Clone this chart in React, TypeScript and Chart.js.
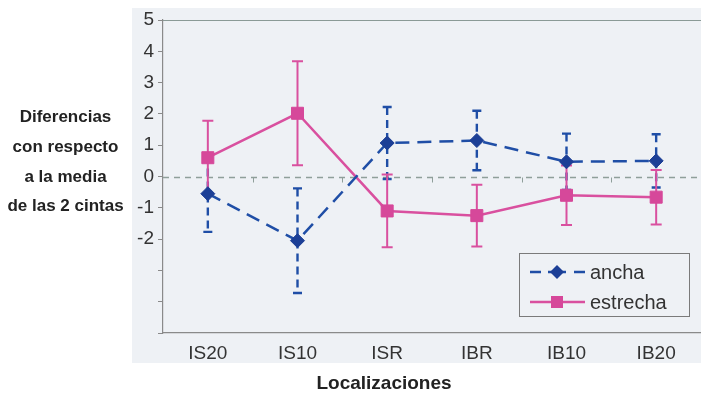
import { useEffect, useRef } from 'react';
import { Chart, registerables } from 'chart.js';
Chart.register(...registerables);

const categories = ['IS20', 'IS10', 'ISR', 'IBR', 'IB10', 'IB20'];
const ancha = [-0.55, -2.05, 1.07, 1.15, 0.47, 0.5];
const anchaErr = [1.22, 1.67, 1.15, 0.95, 0.9, 0.85];
const estrecha = [0.6, 2.02, -1.1, -1.25, -0.6, -0.66];
const estrechaErr = [1.18, 1.66, 1.16, 0.99, 0.95, 0.87];
const yTickLabelMin = -2;
const yTitleLines = ['Diferencias', 'con respecto', 'a la media', 'de las 2 cintas'];
const xTitle = 'Localizaciones';
const seriesNames = ['ancha', 'estrecha'];

const BLUE = '#1f4ea6';
const BLUE_MARK = '#1c3f96';
const PINK = '#d9509f';
const PINK_MARK = '#d6489a';
const FONT = '"Liberation Sans", Arial, sans-serif';

export default function App() {
  const ref = useRef<HTMLCanvasElement>(null);
  useEffect(() => {
    const canvas = ref.current!;
    const errs = [anchaErr, estrechaErr];

    const bgPlugin = {
      id: 'bg',
      beforeDraw(chart: any) {
        const { ctx } = chart;
        ctx.save();
        ctx.fillStyle = '#ffffff';
        ctx.fillRect(0, 0, chart.width, chart.height);
        ctx.fillStyle = '#eef1f5';
        ctx.fillRect(132, 8, chart.width - 132, 355);
        ctx.restore();
      },
      beforeDatasetsDraw(chart: any) {
        const { ctx, chartArea, scales } = chart;
        const xs = scales.x, ys = scales.y;
        ctx.save();
        // top border
        ctx.strokeStyle = '#8a9a96';
        ctx.lineWidth = 1.2;
        ctx.beginPath();
        ctx.moveTo(chartArea.left, chartArea.top + 0.5);
        ctx.lineTo(chartArea.right, chartArea.top + 0.5);
        ctx.stroke();
        // zero line
        const y0 = Math.round(ys.getPixelForValue(0)) + 0.5;
        ctx.strokeStyle = '#8f9f9a';
        ctx.lineWidth = 1.3;
        ctx.setLineDash([6, 5]);
        ctx.beginPath();
        ctx.moveTo(chartArea.left, y0);
        ctx.lineTo(chartArea.right, y0);
        ctx.stroke();
        ctx.setLineDash([]);
        ctx.lineWidth = 1;
        for (let i = 0; i < categories.length - 1; i++) {
          const xm = Math.round((xs.getPixelForValue(i) + xs.getPixelForValue(i + 1)) / 2) + 0.5;
          ctx.beginPath();
          ctx.moveTo(xm, y0);
          ctx.lineTo(xm, y0 + 5);
          ctx.stroke();
        }
        // error bars
        chart.data.datasets.forEach((ds: any, di: number) => {
          const e = errs[di];
          ds.data.forEach((v: number, i: number) => {
            const x = xs.getPixelForValue(i);
            const yt = ys.getPixelForValue(v + e[i]);
            const yb = ys.getPixelForValue(v - e[i]);
            ctx.strokeStyle = di === 0 ? BLUE : PINK;
            ctx.lineWidth = di === 0 ? 2.4 : 2;
            ctx.setLineDash(di === 0 ? [8, 5] : []);
            ctx.beginPath();
            ctx.moveTo(x, yt);
            ctx.lineTo(x, yb);
            ctx.stroke();
            ctx.setLineDash([]);
            const cw = di === 0 ? 4.5 : 5.5;
            ctx.beginPath();
            ctx.moveTo(x - cw, yt);
            ctx.lineTo(x + cw, yt);
            ctx.moveTo(x - cw, yb);
            ctx.lineTo(x + cw, yb);
            ctx.stroke();
          });
        });
        ctx.restore();
      },
      afterDraw(chart: any) {
        const { ctx } = chart;
        ctx.save();
        ctx.fillStyle = '#222';
        ctx.textAlign = 'center';
        ctx.textBaseline = 'middle';
        ctx.font = `bold 17px ${FONT}`;
        const ys0 = [117, 147, 177, 206];
        yTitleLines.forEach((t, i) => ctx.fillText(t, 65.5, ys0[i]));
        ctx.font = `bold 19px ${FONT}`;
        ctx.fillText(xTitle, 384, 384);
        // legend
        const lx = 519.5, ly = 253.5, lw = 170, lh = 63;
        ctx.strokeStyle = '#7a7a7a';
        ctx.lineWidth = 1;
        ctx.strokeRect(lx, ly, lw, lh);
        const rows = [272, 302];
        ctx.font = `20px ${FONT}`;
        ctx.textAlign = 'left';
        ctx.fillStyle = '#333';
        seriesNames.forEach((n, i) => ctx.fillText(n, 590, rows[i] + 1));
        // ancha sample
        ctx.strokeStyle = BLUE;
        ctx.lineWidth = 2.4;
        ctx.beginPath();
        ctx.moveTo(530, rows[0]); ctx.lineTo(541, rows[0]);
        ctx.moveTo(574, rows[0]); ctx.lineTo(585, rows[0]);
        ctx.moveTo(548, rows[0]); ctx.lineTo(566, rows[0]);
        ctx.stroke();
        ctx.fillStyle = BLUE_MARK;
        ctx.beginPath();
        ctx.moveTo(557, rows[0] - 7); ctx.lineTo(564, rows[0]);
        ctx.lineTo(557, rows[0] + 7); ctx.lineTo(550, rows[0]);
        ctx.closePath();
        ctx.fill();
        // estrecha sample
        ctx.strokeStyle = PINK;
        ctx.lineWidth = 2.4;
        ctx.beginPath();
        ctx.moveTo(530, rows[1]); ctx.lineTo(585, rows[1]);
        ctx.stroke();
        ctx.fillStyle = PINK_MARK;
        ctx.fillRect(551, rows[1] - 6, 12, 12);
        ctx.restore();
      },
    };

    const chart = new Chart(canvas, {
      type: 'line',
      data: {
        labels: categories,
        datasets: [
          {
            label: seriesNames[0],
            data: ancha,
            borderColor: BLUE,
            borderWidth: 2.5,
            borderDash: [14, 8],
            pointStyle: 'rectRot',
            pointRadius: 7,
            pointBackgroundColor: BLUE_MARK,
            pointBorderColor: BLUE_MARK,
            pointBorderWidth: 1,
            tension: 0,
          },
          {
            label: seriesNames[1],
            data: estrecha,
            borderColor: PINK,
            borderWidth: 2.5,
            pointStyle: 'rect',
            pointRadius: 8.5,
            pointBackgroundColor: PINK_MARK,
            pointBorderColor: PINK_MARK,
            pointBorderWidth: 1,
            tension: 0,
          },
        ],
      },
      options: {
        responsive: false,
        animation: false,
        layout: { autoPadding: false, padding: { top: 20, left: 0, right: 0, bottom: 0 } },
        plugins: { legend: { display: false }, tooltip: { enabled: false } },
        scales: {
          x: {
            offset: true,
            grid: { drawOnChartArea: false, drawTicks: false, color: '#8a8a8a' },
            border: { display: true, color: '#8a8a8a', width: 1.2 },
            ticks: { color: '#333', font: { size: 19, family: FONT }, padding: 9, maxRotation: 0 },
            afterFit(scale: any) {
              scale.height = 63;
              scale.paddingLeft = 0;
              scale.paddingRight = 0;
            },
          },
          y: {
            min: -5,
            max: 5,
            grid: { drawOnChartArea: false, drawTicks: true, tickLength: 5, color: '#8a8a8a' },
            border: { display: true, color: '#8a8a8a', width: 1.2 },
            ticks: {
              stepSize: 1,
              color: '#333',
              font: { size: 19, family: FONT },
              padding: 4,
              callback: (v: any) => (Number(v) >= yTickLabelMin ? String(v) : ''),
            },
            afterFit(scale: any) { scale.width = 163; },
          },
        },
      },
      plugins: [bgPlugin],
    } as any);
    return () => chart.destroy();
  }, []);
  return (
    <div style={{ position: 'absolute', left: 0, top: 0, width: 701, height: 396 }}>
      <canvas ref={ref} width={701} height={396} style={{ display: 'block' }} />
    </div>
  );
}
